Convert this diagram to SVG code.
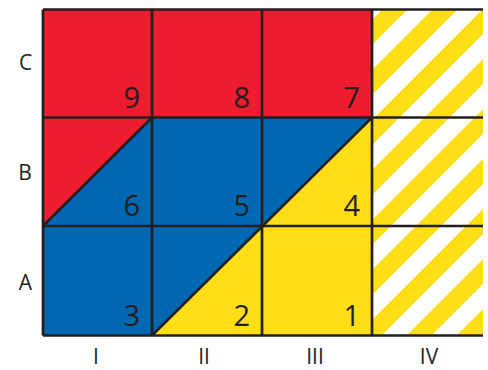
<svg xmlns="http://www.w3.org/2000/svg" width="488" height="370" viewBox="0 0 488 370">
<style>
.num{font-family:"Open Sans","Liberation Sans",sans-serif;font-size:29px;fill:#231f20;text-anchor:end}
.lab{font-family:"Open Sans","Liberation Sans",sans-serif;font-size:21px;fill:#231f20;text-anchor:middle}
.grid{stroke:#231f20;stroke-width:2.7;fill:none}
.diag{stroke:#231f20;stroke-width:2.5;fill:none}
</style>
<defs>
<pattern id="stripes" patternUnits="userSpaceOnUse" width="35.355" height="10" patternTransform="rotate(45) translate(-5.657 0)">
<rect x="0" y="0" width="35.355" height="10" fill="#ffffff"/>
<rect x="0" y="0" width="17.68" height="10" fill="#ffde17"/>
</pattern>
</defs>
<rect width="488" height="370" fill="#ffffff"/>
<g id="regions">
<polygon id="red" points="43,9.5 372,9.5 372,117.5 152,117.5 43,226" fill="#ed1c2e"/>
<polygon id="blue" points="43,226 152,117.5 372,117.5 152,335.5 43,335.5" fill="#0068b3"/>
<polygon id="yellow" points="372,117.5 372,335.5 152,335.5" fill="#ffde17"/>
<rect id="striped" x="372" y="9.5" width="111" height="326" fill="url(#stripes)"/>
</g>
<g id="connectors">
<path class="grid" d="M43,9.5H483M43,117.5H483M43,226H483M43,335.5H483M43,9.5V335.5M152,9.5V335.5M262,9.5V335.5M372,9.5V335.5"/>
<path class="diag" d="M43,226L152,117.5M152,335.5L372,117.5"/>
</g>
<g id="numbers">
<text class="num" x="140" y="107.5">9</text>
<text class="num" x="250" y="107.5">8</text>
<text class="num" x="360" y="107.5">7</text>
<text class="num" x="140" y="216">6</text>
<text class="num" x="250" y="216">5</text>
<text class="num" x="360" y="216">4</text>
<text class="num" x="140" y="326">3</text>
<text class="num" x="250" y="326">2</text>
<text class="num" x="360" y="326">1</text>
</g>
<g id="row-labels">
<text class="lab" x="25.5" y="70">C</text>
<text class="lab" x="25" y="180">B</text>
<text class="lab" x="25.5" y="290">A</text>
</g>
<g id="col-labels">
<text class="lab" x="96" y="364">I</text>
<text class="lab" x="204" y="364">II</text>
<text class="lab" x="315" y="364">III</text>
<text class="lab" x="429" y="364">IV</text>
</g>
</svg>
